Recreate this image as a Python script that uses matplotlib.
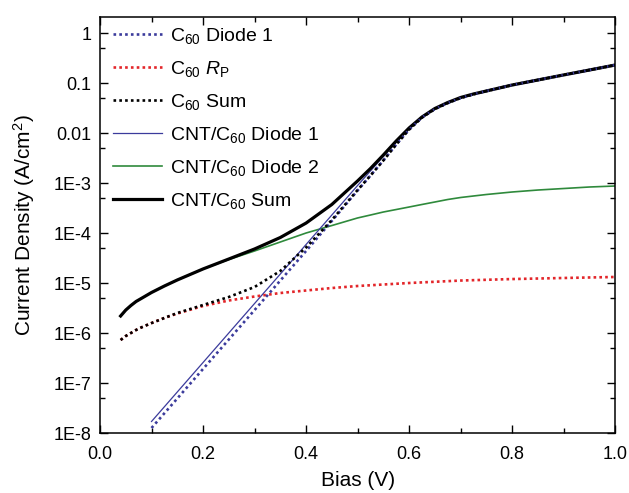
import matplotlib
matplotlib.use('Agg')
import matplotlib.pyplot as plt
from matplotlib.ticker import FixedLocator, FixedFormatter, NullFormatter

plt.rcParams['font.family'] = ['Liberation Sans', 'DejaVu Sans']
plt.rcParams['mathtext.fontset'] = 'custom'
plt.rcParams['mathtext.rm'] = 'Liberation Sans'
plt.rcParams['mathtext.it'] = 'Liberation Sans:italic'

# Bias values (V) and current densities (A/cm^2) for each curve
bias_low = [0.04, 0.05, 0.06, 0.07, 0.08, 0.10, 0.125, 0.15, 0.20, 0.25, 0.30,
            0.35, 0.40, 0.45, 0.50, 0.525, 0.55, 0.575, 0.60, 0.625, 0.65,
            0.675, 0.70, 0.725, 0.75, 0.80, 0.85, 0.90, 0.95, 1.00]
bias_diode = [0.10, 0.15, 0.20, 0.25, 0.30, 0.35, 0.40, 0.45, 0.50, 0.525,
              0.55, 0.575, 0.60, 0.625, 0.65, 0.675, 0.70, 0.725, 0.75, 0.80,
              0.85, 0.90, 0.95, 1.00]
bias_rp = [0.04, 0.05, 0.06, 0.07, 0.08, 0.10, 0.125, 0.15, 0.20, 0.25, 0.30,
           0.35, 0.40, 0.45, 0.50, 0.60, 0.70, 0.80, 0.90, 1.00]

c60_diode1 = [1.26e-8, 4.90e-8, 1.91e-7, 7.41e-7, 2.88e-6, 1.12e-5, 4.37e-5,
              1.74e-4, 7.08e-4, 1.41e-3, 2.82e-3, 5.89e-3, 1.17e-2, 2.04e-2,
              3.02e-2, 3.98e-2, 5.01e-2, 5.96e-2, 6.92e-2, 9.12e-2, 1.15e-1,
              1.45e-1, 1.82e-1, 2.29e-1]
c60_rp = [7.24e-7, 8.71e-7, 1.00e-6, 1.15e-6, 1.29e-6, 1.58e-6, 2.00e-6,
          2.45e-6, 3.47e-6, 4.47e-6, 5.37e-6, 6.31e-6, 7.08e-6, 7.94e-6,
          8.71e-6, 1.00e-5, 1.12e-5, 1.20e-5, 1.26e-5, 1.32e-5]
c60_sum = [7.24e-7, 8.71e-7, 1.00e-6, 1.15e-6, 1.29e-6, 1.58e-6, 2.00e-6,
           2.51e-6, 3.63e-6, 5.25e-6, 8.32e-6, 1.74e-5, 5.13e-5, 1.82e-4,
           7.24e-4, 1.41e-3, 2.82e-3, 5.89e-3, 1.17e-2, 2.04e-2, 3.02e-2,
           3.98e-2, 5.01e-2, 5.96e-2, 6.92e-2, 9.12e-2, 1.15e-1, 1.45e-1,
           1.82e-1, 2.29e-1]
cnt_diode1 = [1.70e-8, 6.61e-8, 2.57e-7, 1.00e-6, 3.89e-6, 1.51e-5, 5.89e-5,
              2.29e-4, 8.91e-4, 1.74e-3, 3.39e-3, 6.61e-3, 1.23e-2, 2.04e-2,
              3.02e-2, 3.98e-2, 5.01e-2, 5.96e-2, 6.92e-2, 9.12e-2, 1.15e-1,
              1.45e-1, 1.82e-1, 2.29e-1]
cnt_diode2 = [2.19e-6, 2.88e-6, 3.55e-6, 4.27e-6, 4.90e-6, 6.46e-6, 8.71e-6,
              1.15e-5, 1.91e-5, 2.95e-5, 4.37e-5, 6.61e-5, 1.00e-4, 1.41e-4,
              2.00e-4, 2.29e-4, 2.63e-4, 2.95e-4, 3.31e-4, 3.72e-4, 4.17e-4,
              4.68e-4, 5.13e-4, 5.50e-4, 5.89e-4, 6.61e-4, 7.24e-4, 7.76e-4,
              8.32e-4, 8.71e-4]
cnt_sum = [2.19e-6, 2.88e-6, 3.55e-6, 4.27e-6, 4.90e-6, 6.46e-6, 8.71e-6,
           1.15e-5, 1.91e-5, 3.02e-5, 4.79e-5, 8.13e-5, 1.58e-4, 3.72e-4,
           1.10e-3, 1.95e-3, 3.63e-3, 6.92e-3, 1.26e-2, 2.09e-2, 3.09e-2,
           4.07e-2, 5.13e-2, 6.03e-2, 6.92e-2, 9.12e-2, 1.15e-1, 1.45e-1,
           1.82e-1, 2.29e-1]

ytick_vals = [1e-8, 1e-7, 1e-6, 1e-5, 1e-4, 1e-3, 1e-2, 1e-1, 1]
ytick_labels = ['1E-8', '1E-7', '1E-6', '1E-5', '1E-4', '1E-3', '0.01', '0.1', '1']
yminor_vals = [5e-8, 5e-7, 5e-6, 5e-5, 5e-4, 5e-3, 5e-2, 5e-1]

blue = '#3b3b9c'
red = '#e3262a'
green = '#2f8a3c'
dots = (0, (1, 1.2))

fig = plt.figure(figsize=(6.29, 4.93), dpi=100)
ax = fig.add_axes([0.159, 0.1217, 0.819, 0.8438])

# draw order: thin lines underneath, dotted C60 curves on top
h5, = ax.plot(bias_low, cnt_diode2, color=green, lw=1.2, label=r'CNT/C$_{60}$ Diode 2')
h4, = ax.plot(bias_diode, cnt_diode1, color=blue, lw=0.9, label=r'CNT/C$_{60}$ Diode 1')
h6, = ax.plot(bias_low, cnt_sum, color='black', lw=2.3, label=r'CNT/C$_{60}$ Sum')
h2, = ax.plot(bias_rp, c60_rp, color=red, lw=1.9, linestyle=dots,
              dash_capstyle='butt', label=r'C$_{60}$ $R_\mathrm{P}$')
h1, = ax.plot(bias_diode, c60_diode1, color=blue, lw=1.9, linestyle=dots,
              dash_capstyle='butt', label=r'C$_{60}$ Diode 1')
h3, = ax.plot(bias_low, c60_sum, color='black', lw=1.9, linestyle=dots,
              dash_capstyle='butt', label=r'C$_{60}$ Sum')

ax.set_yscale('log')
ax.set_xlim(0, 1.0)
ax.set_ylim(1e-8, 2.09)

ax.set_xticks([0.0, 0.2, 0.4, 0.6, 0.8, 1.0])
ax.set_xticklabels(['0.0', '0.2', '0.4', '0.6', '0.8', '1.0'])
ax.set_xticks([0.1, 0.3, 0.5, 0.7, 0.9], minor=True)
ax.yaxis.set_major_locator(FixedLocator(ytick_vals))
ax.yaxis.set_major_formatter(FixedFormatter(ytick_labels))
ax.yaxis.set_minor_locator(FixedLocator(yminor_vals))
ax.yaxis.set_minor_formatter(NullFormatter())

ax.tick_params(which='both', direction='in', top=True, right=True,
               labelsize=13, width=1.0)
ax.tick_params(axis='x', which='major', pad=9)
ax.tick_params(axis='y', which='major', pad=6)
ax.tick_params(which='major', length=6)
ax.tick_params(which='minor', length=3.5)
for sp in ax.spines.values():
    sp.set_linewidth(1.1)

ax.set_xlabel('Bias (V)', fontsize=15, labelpad=6)
ax.set_ylabel(r'Current Density (A/cm$^2$)', fontsize=15, labelpad=12)

ax.legend(handles=[h1, h2, h3, h4, h5, h6], loc='upper left',
          bbox_to_anchor=(0.025, 0.978), frameon=False, fontsize=14,
          handlelength=2.55, handletextpad=0.4, labelspacing=0.67,
          borderpad=0, borderaxespad=0)

fig.savefig('out.png', dpi=100)
